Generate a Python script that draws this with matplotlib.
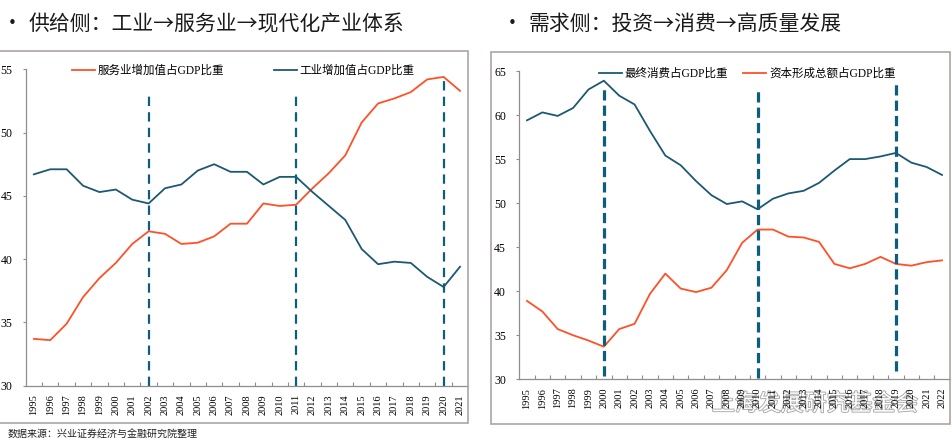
import matplotlib
matplotlib.use("Agg")
import matplotlib.pyplot as plt
import matplotlib.patheffects as pe
from matplotlib.patches import Rectangle

# fonts: serif for latin digits, CJK fallback for chinese
CJK = "Noto Sans CJK SC"
MIXED = ["Liberation Serif", CJK]

ORANGE = "#FF5027"
NAVY = "#1D5873"
DASH = "#0D5E7C"
FRAME = "#ABA6A2"
SPINE = "#8E8E8E"

# ---- data: supply side ----
years_left = list(range(1995, 2022))
services_share = [33.7, 33.6, 34.9, 37.0, 38.5, 39.7, 41.2, 42.2, 42.0, 41.2,
                  41.3, 41.8, 42.8, 42.8, 44.4, 44.2, 44.3, 45.6, 46.8, 48.2,
                  50.8, 52.3, 52.7, 53.2, 54.2, 54.4, 53.3]
industry_share = [46.7, 47.1, 47.1, 45.8, 45.3, 45.5, 44.7, 44.4, 45.6, 45.9,
                  47.0, 47.5, 46.9, 46.9, 45.9, 46.5, 46.5, 45.3, 44.2, 43.1,
                  40.8, 39.6, 39.8, 39.7, 38.6, 37.8, 39.4]
left_marks = [2002, 2011, 2020]
left_mark_tops = [52.9, 53.1, 54.4]

# ---- data: demand side ----
years_right = list(range(1995, 2023))
consumption_share = [59.4, 60.3, 59.9, 60.8, 62.9, 63.9, 62.2, 61.2, 58.2, 55.4,
                     54.3, 52.5, 50.9, 49.9, 50.2, 49.3, 50.5, 51.1, 51.4, 52.3,
                     53.7, 55.0, 55.0, 55.3, 55.7, 54.6, 54.1, 53.2]
capital_share = [38.9, 37.7, 35.7, 35.0, 34.4, 33.7, 35.7, 36.3, 39.7, 42.0,
                 40.3, 39.9, 40.4, 42.4, 45.5, 47.0, 47.0, 46.2, 46.1, 45.6,
                 43.1, 42.6, 43.1, 43.9, 43.1, 42.9, 43.3, 43.5]
right_marks = [2000, 2010, 2019]
right_mark_tops = [63.2, 62.9, 63.6]
right_mark_bottoms = [30.4, 30.2, 30.9]

W, H = 952, 445


def fx(px):
    return px / W


def fy(py):
    return 1 - py / H


def style_axis(ax, years, ylo, yhi, step):
    n = len(years)
    ax.set_xlim(-0.5, n - 0.5)
    ax.set_ylim(ylo, yhi)
    ax.set_yticks(range(ylo, yhi + 1, step))
    ax.set_xticks(range(n))
    ax.set_xticklabels([str(y) for y in years], rotation=90,
                       family="Liberation Serif", fontsize=7.5)
    ax.set_xticks([i + 0.5 for i in range(n - 1)], minor=True)
    ax.tick_params(axis="x", which="major", length=0, pad=6)
    ax.tick_params(axis="x", which="minor", direction="in", length=3,
                   color=SPINE, width=0.8)
    ax.tick_params(axis="y", direction="out", length=2.5, color=SPINE,
                   width=0.8, pad=7)
    for lab in ax.get_yticklabels():
        lab.set_family("Liberation Serif")
        lab.set_fontsize(8.5)
    for s in ["top", "right"]:
        ax.spines[s].set_visible(False)
    for s in ["left", "bottom"]:
        ax.spines[s].set_color(SPINE)
        ax.spines[s].set_linewidth(0.9)
    ax.set_facecolor("none")


fig = plt.figure(figsize=(W / 100, H / 100), dpi=100)

# panel frames
fig.patches.append(Rectangle((fx(-2), fy(423.3)), fx(470.3), fy(50.7) - fy(423.3),
                             transform=fig.transFigure, fill=False,
                             edgecolor=FRAME, linewidth=1.2))
fig.patches.append(Rectangle((fx(490.7), fy(424)), fx(950 - 490.7), fy(51.7) - fy(424),
                             transform=fig.transFigure, fill=False,
                             edgecolor=FRAME, linewidth=1.2))

# titles
fig.text(fx(12), fy(24), "•", fontsize=11, color="#1a1a1a", ha="center", va="center",
         family=["DejaVu Sans"])
fig.text(fx(28.3), fy(24), "供给侧：工业→服务业→现代化产业体系", fontsize=15,
         color="#1a1a1a", ha="left", va="center", family=[CJK, "DejaVu Sans"])
fig.text(fx(511.8), fy(24), "•", fontsize=11, color="#1a1a1a", ha="center", va="center",
         family=["DejaVu Sans"])
fig.text(fx(528.3), fy(24), "需求侧：投资→消费→高质量发展", fontsize=15,
         color="#1a1a1a", ha="left", va="center", family=[CJK, "DejaVu Sans"])

# ---- left chart ----
axL = fig.add_axes([fx(25.7), fy(385.7), fx(468.2 - 25.7), fy(69.3) - fy(385.7)])
xl = range(len(years_left))
axL.plot(xl, services_share, color=ORANGE, lw=1.3, label="服务业增加值占GDP比重")
axL.plot(xl, industry_share, color=NAVY, lw=1.3, label="工业增加值占GDP比重")
for yr, top in zip(left_marks, left_mark_tops):
    i = years_left.index(yr)
    axL.plot([i, i], [30, top], color=DASH, lw=1.6, linestyle=(0, (4.2, 2.8)),
             clip_on=False)
style_axis(axL, years_left, 30, 55, 5)
legL = axL.legend(loc="center left", bbox_to_anchor=(0.104, 0.995), ncol=2,
                  frameon=False, borderpad=0, borderaxespad=0, handlelength=2.0,
                  handletextpad=0.25, columnspacing=4.3,
                  prop={"family": MIXED, "size": 8.3})

# ---- right chart ----
axR = fig.add_axes([fx(519.3), fy(379.3), fx(949.7 - 519.3), fy(71) - fy(379.3)])
xr = range(len(years_right))
axR.plot(xr, consumption_share, color=NAVY, lw=1.3, label="最终消费占GDP比重")
axR.plot(xr, capital_share, color=ORANGE, lw=1.3, label="资本形成总额占GDP比重")
for yr, lo, top in zip(right_marks, right_mark_bottoms, right_mark_tops):
    i = years_right.index(yr)
    axR.plot([i, i], [lo, top], color=DASH, lw=2.3, linestyle=(0, (3.2, 1.6)),
             clip_on=False)
style_axis(axR, years_right, 30, 65, 5)
legR = axR.legend(loc="center left", bbox_to_anchor=(0.185, 0.99), ncol=2,
                  frameon=False, borderpad=0, borderaxespad=0, handlelength=2.0,
                  handletextpad=0.25, columnspacing=1.3,
                  prop={"family": MIXED, "size": 8.3})

# source note and watermark (hollow grey lettering, drawn under the axes)
fig.text(fx(8), fy(435), "数据来源：兴业证券经济与金融研究院整理", fontsize=7.2,
         color="#222222", ha="left", va="center", family=[CJK, "DejaVu Sans"])
wm = fig.text(fx(712), fy(404), "上海发展研究基金会", fontsize=16.5, color="white",
              ha="left", va="center", family=[CJK, "DejaVu Sans"], zorder=-1)
wm.set_path_effects([pe.Stroke(linewidth=1.3, foreground="#a8a8a8"), pe.Normal()])

fig.savefig("out.png", dpi=100)
